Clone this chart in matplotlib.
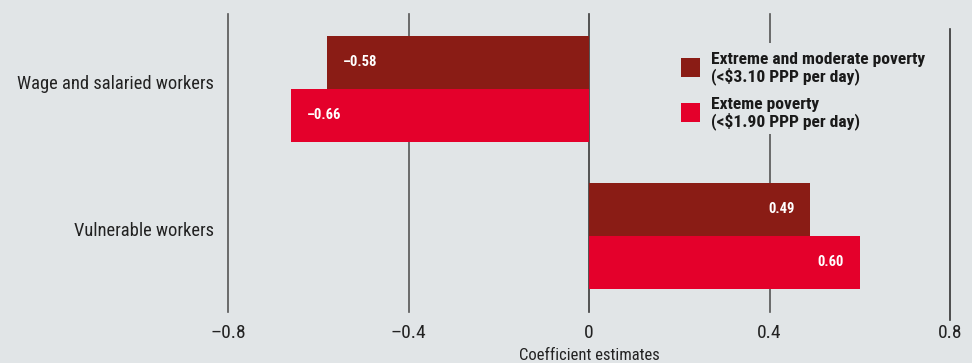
import matplotlib
matplotlib.use("Agg")
import matplotlib.pyplot as plt
from matplotlib import font_manager as fm
from matplotlib.patches import Rectangle
import matplotlib.transforms as mtransforms

names = {f.name for f in fm.fontManager.ttflist}
def pick(cands, default="DejaVu Sans"):
    for c in cands:
        if c in names:
            return c
    return default

FONT = pick(["Roboto Condensed", "Fira Sans Condensed", "Archivo Narrow",
             "PT Sans Narrow", "Liberation Sans Narrow", "Liberation Sans"])
BOLD = FONT
plt.rcParams['font.family'] = [FONT, 'DejaVu Sans']

categories = ["Wage and salaried workers", "Vulnerable workers"]
series_names = ["Extreme and moderate poverty\n(<$3.10 PPP per day)",
                "Exteme poverty\n(<$1.90 PPP per day)"]
extreme_moderate = [-0.58, 0.49]
extreme = [-0.66, 0.60]
xticks = [-0.8, -0.4, 0, 0.4, 0.8]
xtick_labels = ["–0.8", "–0.4", "0", "0.4", "0.8"]
colors = ["#8a1c15", "#e4002b"]
bg = "#e1e5e7"

W, H = 972, 363
def fx(x): return x / W
def fy(y): return 1 - y / H

fig = plt.figure(figsize=(9.72, 3.63), dpi=100, facecolor=bg)
ax_top, ax_bot = 14, 312
ax = fig.add_axes([fx(228), fy(ax_bot), fx(950) - fx(228), (ax_bot - ax_top) / H], facecolor=bg)

h = 0.36
ys = list(range(len(categories)))
for i, (vals, col) in enumerate(zip([extreme_moderate, extreme], colors)):
    off = -h/2 if i == 0 else h/2
    ax.barh([y + off for y in ys], vals, height=h, color=col, zorder=3,
            label=series_names[i])
    for y, v in zip(ys, vals):
        txt = ("–%.2f" % abs(v)) if v < 0 else "%.2f" % v
        if v < 0:
            ax.text(v + 0.035, y + off, txt, ha="left", va="center", color="white",
                    fontsize=10.5, fontweight="bold", family=[BOLD, 'DejaVu Sans'], zorder=4)
        else:
            ax.text(v - 0.035, y + off, txt, ha="right", va="center", color="white",
                    fontsize=10.5, fontweight="bold", family=[BOLD, 'DejaVu Sans'], zorder=4)

for x in xticks:
    if x == 0.8:
        ax.axvline(x, ymin=-(320 - ax_bot) / (ax_bot - ax_top),
                   ymax=(ax_bot - 29) / (ax_bot - ax_top),
                   color="#333333", lw=1.2, zorder=1, clip_on=False)
    else:
        ax.axvline(x, color="#3a3a3a" if x == 0 else "#555555", lw=1.2, zorder=1,
                   clip_on=False)

ax.set_xlim(-0.8, 0.8)
ax.set_ylim(1.52, -0.51)
ax.set_xticks(xticks)
ax.set_xticklabels(xtick_labels, fontsize=14, color="#222222")
ax.tick_params(axis="x", length=0, pad=9)
ax.set_yticks(ys)
ax.set_yticklabels(categories, fontsize=13.3, color="#222222")
ax.tick_params(axis="y", length=0, pad=10)
ax.set_xlabel("Coefficient estimates", fontsize=12, color="#222222", labelpad=4)
for s in ax.spines.values():
    s.set_visible(False)

offset = mtransforms.ScaledTranslation(0, 7/100, fig.dpi_scale_trans)
for lab in ax.get_yticklabels():
    lab.set_transform(lab.get_transform() + offset)

# legend (box in background colour hides gridline behind it)
fig.patches.append(Rectangle((fx(668), fy(134)), fx(940) - fx(668), (134 - 43) / H,
                             transform=fig.transFigure, facecolor=bg, edgecolor="none",
                             zorder=2))
leg_y = [67.5, 112.5]
for name, col, yc in zip(series_names, colors, leg_y):
    fig.patches.append(Rectangle((fx(681), fy(yc + 9.5)), fx(19), 19 / H,
                                 transform=fig.transFigure, facecolor=col,
                                 edgecolor="none", zorder=3))
    fig.text(fx(711), fy(yc + 1), name, ha="left", va="center", fontsize=12.6,
             fontweight="bold", family=[BOLD, 'DejaVu Sans'], color="#1a1a1a",
             linespacing=1.05, zorder=4)

fig.savefig("out.png", dpi=100, facecolor=bg)
